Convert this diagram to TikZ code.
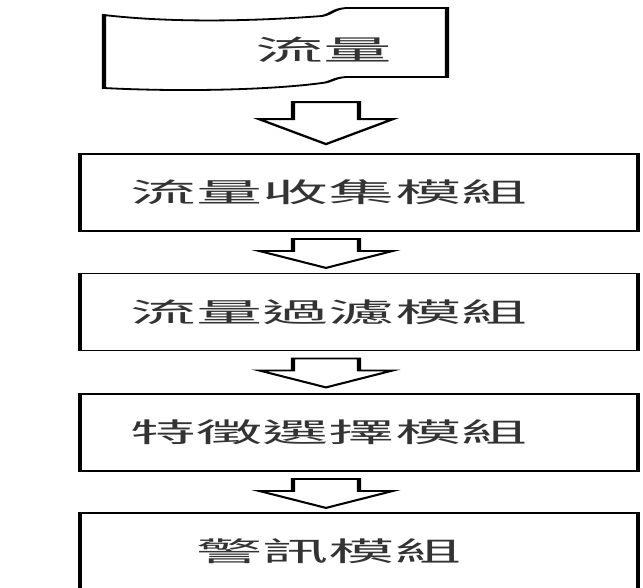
\documentclass[tikz,border=0pt]{standalone}
\usepackage{fontspec}
\newfontfamily\cjk{Noto Sans CJK TC}
\usetikzlibrary{calc}

\tikzset{
  pics/fatarrow/.style n args={2}{code={%
    \draw[fatline] (-33,0) -- (33,0) -- (33,#1) -- (67,#1) -- (0,#2)
      -- (-67,#1) -- (-33,#1) -- cycle;}}
}
\newcommand{\lpad}[1]{#1\hspace{24.5pt}\null}

\begin{document}
\begin{tikzpicture}[x=1pt,y=-1pt,
  fatline/.style={line width=1.8pt,line join=miter},
  box/.style={draw,fatline,minimum width=227.8pt,minimum height=77pt,
              inner sep=0pt,text=black!80,font=\cjk\fontsize{27}{27}\selectfont},
  srctext/.style={inner sep=0pt,text=black!80,font=\cjk\fontsize{28}{28}\selectfont}
]
\useasboundingbox (0,0) rectangle (643,587);
\begin{scope}[x=0.40816pt,transform canvas={xscale=2.45}]
% source (document shape)
\draw[fatline] (104,15) .. controls (180,24) and (270,20) .. (322,16)
  .. controls (332,14) and (333,9) .. (346,8) -- (447,8) -- (447,77)
  -- (346,77) .. controls (333,78) and (332,82) .. (322,83)
  .. controls (270,90) and (180,92) .. (104,88) -- cycle;
\node[srctext] (src) at (324,50) {流量};

% modules
\node[box] (collect) at (359,192.5) {\lpad{流量收集模組}};
\node[box] (filter)  at (359,312)   {\lpad{流量過濾模組}};
\node[box] (select)  at (359,432.5) {\lpad{特徵選擇模組}};
\node[box] (alert)   at (359,551.5) {\lpad{警訊模組}};

% block arrows
\pic at ($(collect.north)+(-33,-51)$) {fatarrow={17}{42}};
\pic at ($(collect.south)+(-33,7)$) {fatarrow={12}{29}};
\pic at ($(filter.south)+(-33,7)$)  {fatarrow={12}{29}};
\pic at ($(select.south)+(-33,7)$)  {fatarrow={12}{29}};
\end{scope}
\end{tikzpicture}
\end{document}
